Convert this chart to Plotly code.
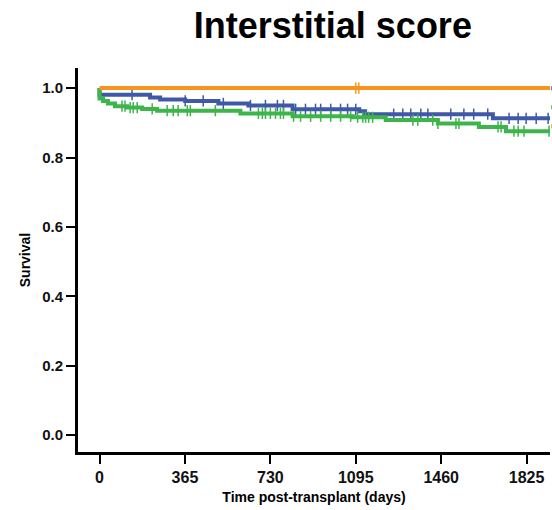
import numpy as np
import plotly.graph_objects as go

# Kaplan-Meier steps: event days and survival after each event
blue_days = [0, 216, 259, 366, 508, 636, 825, 1110, 1135, 1681]
blue_surv = [0.981, 0.973, 0.967, 0.963, 0.956, 0.950, 0.939, 0.933, 0.925, 0.913]
blue_censor = [139, 366, 443, 529, 645, 709, 760, 786, 838, 880, 923, 945, 988, 1030,
               1060, 1095, 1257, 1296, 1330, 1373, 1403, 1501, 1557, 1599, 1659, 1750,
               1789, 1823, 1866, 1917]

green_days = [0, 15, 36, 66, 118, 182, 246, 602, 825, 1082, 1223, 1446, 1621, 1737]
green_surv = [0.970, 0.963, 0.956, 0.948, 0.944, 0.940, 0.935, 0.927, 0.919, 0.916,
              0.908, 0.898, 0.888, 0.876]
green_censor = [96, 109, 131, 144, 161, 225, 289, 315, 336, 375, 388, 495, 679, 696, 709,
                730, 752, 773, 786, 829, 859, 902, 945, 988, 1030, 1073, 1103, 1125, 1137,
                1150, 1167, 1339, 1360, 1424, 1446, 1523, 1536, 1703, 1716, 1771, 1789,
                1814, 1921]

orange_days = [0]
orange_surv = [1.0]
orange_censor = [1095, 1108]

follow_up_end = 1925
x_ticks = [0, 365, 730, 1095, 1460, 1825]
y_ticks = [0.0, 0.2, 0.4, 0.6, 0.8, 1.0]

groups = [
    (blue_days, blue_surv, blue_censor, "#4058A8"),
    (green_days, green_surv, green_censor, "#3DB54A"),
    (orange_days, orange_surv, orange_censor, "#F7951E"),
]


def step_value(days, surv, t):
    idx = np.searchsorted(np.asarray(days), t, side="right") - 1
    return 1.0 if idx < 0 else surv[idx]


fig = go.Figure()
for days, surv, censor, color in groups:
    xs = [0] + list(days) + [follow_up_end]
    ys = [1.0] + list(surv) + [surv[-1]]
    # legend keys sit at the right edge; their labels run past the page
    fig.add_trace(go.Scatter(
        x=xs, y=ys, mode="lines", name="",
        line=dict(color=color, width=4, shape="hv"),
    ))
    fig.add_trace(go.Scatter(
        x=censor, y=[step_value(days, surv, t) for t in censor],
        mode="markers", showlegend=False, hoverinfo="skip",
        marker=dict(symbol="line-ns", size=8, color=color,
                    line=dict(color=color, width=1.5)),
    ))

FONT = "Liberation Sans, Arial, sans-serif"

fig.update_layout(
    width=552, height=510,
    paper_bgcolor="white", plot_bgcolor="white",
    margin=dict(l=78, r=2, t=68, b=58, autoexpand=False),
    title=dict(
        text="<b>Interstitial score</b>",
        x=0.603, xanchor="center", xref="container",
        y=0.951, yanchor="middle",
        font=dict(family=FONT, size=36, color="black"),
    ),
    showlegend=True,
    legend=dict(
        x=0.992, xanchor="left", y=0.985, yanchor="top",
        font=dict(family=FONT, size=12),
        bgcolor="rgba(0,0,0,0)",
    ),
    xaxis=dict(
        range=[-92, follow_up_end],
        tickvals=x_ticks, ticktext=[f"<b>{v}</b>" for v in x_ticks],
        showgrid=False, zeroline=False,
        showline=True, linecolor="black", linewidth=3,
        ticks="outside", ticklen=9, tickwidth=1.5, tickcolor="black",
        tickfont=dict(family=FONT, size=16, color="#111111"),
        title=dict(text="<b>Time post-transplant (days)</b>",
                   font=dict(family=FONT, size=14, color="black"),
                   standoff=7),
    ),
    yaxis=dict(
        range=[-0.049, 1.058],
        tickvals=y_ticks, ticktext=[f"<b>{v:.1f}</b>" for v in y_ticks],
        showgrid=False, zeroline=False,
        showline=True, linecolor="black", linewidth=3,
        ticks="outside", ticklen=9, tickwidth=1.5, tickcolor="black",
        tickfont=dict(family=FONT, size=15, color="#111111"),
        title=dict(text="<b>Survival</b>",
                   font=dict(family=FONT, size=14, color="black"),
                   standoff=9),
    ),
)

fig.write_html("out.html")
